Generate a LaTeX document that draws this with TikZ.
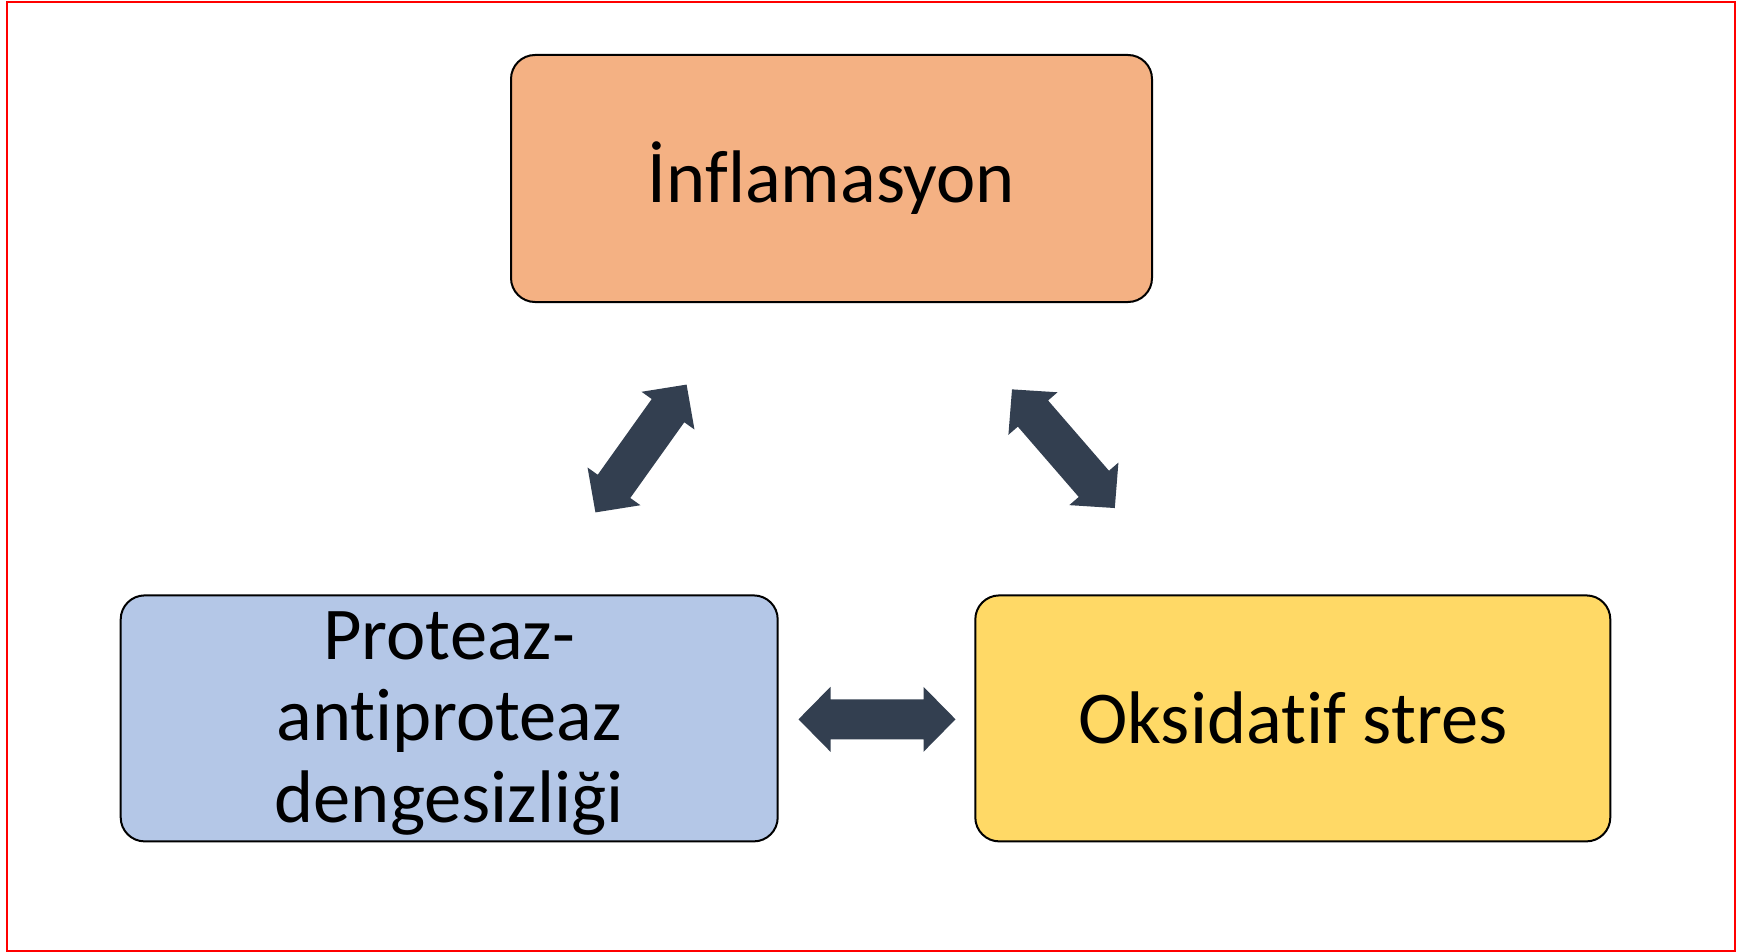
\documentclass[tikz,border=0pt]{standalone}
\usepackage{fontspec}
\setmainfont{Carlito}[Ligatures=NoCommon]
\definecolor{framered}{HTML}{FF0000}
\definecolor{inflfill}{HTML}{F4B183}
\definecolor{protfill}{HTML}{B4C7E7}
\definecolor{oksfill}{HTML}{FFD966}
\definecolor{arrowfill}{HTML}{333F50}
\tikzset{
  box/.style={draw=black, line width=2pt, rounded corners=24pt, inner sep=0pt,
    align=center, font=\fontsize{74.5}{81.5}\selectfont},
  boxtext/.style={inner sep=0pt, align=center, font=\fontsize{74.5}{81.5}\selectfont},
  dblarrow/.pic={
    \fill[arrowfill] (-78.5,0) -- (-46.5,32.5) -- (-46.5,20) -- (46.5,20)
      -- (46.5,32.5) -- (78.5,0) -- (46.5,-32.5) -- (46.5,-20) -- (-46.5,-20)
      -- (-46.5,-32.5) -- cycle;
  }
}
\begin{document}
\begin{tikzpicture}[x=1pt, y=-1pt]
  \useasboundingbox (0,0) rectangle (1752,952);
  % outer frame
  \draw[framered, line width=2pt] (7,2) rectangle (1734.7,951);
  % the three factors
  \node[box, fill=inflfill, minimum width=641pt, minimum height=247pt]
    (infl) at (831.5,178.5) {İnflamasyon};
  \node[box, fill=protfill, minimum width=657pt, minimum height=246pt]
    (prot) at (449.2,718.4) {};
  \node[boxtext] (protlabel) at ([yshift=-5pt]prot.center)
    {Proteaz-\\antiproteaz\\dengesizliği};
  \node[box, fill=oksfill, minimum width=635pt, minimum height=246pt]
    (oks) at (1292.8,718.4) {Oksidatif stres};
  % two-headed block arrows between them
  \coordinate (a1) at (641,448.5);
  \coordinate (a2) at (1063.4,448.7);
  \coordinate (a3) at (877,719.3);
  \pic[rotate=54.5] at (a1) {dblarrow};
  \pic[rotate=-49.1] at (a2) {dblarrow};
  \pic at (a3) {dblarrow};
\end{tikzpicture}
\end{document}
